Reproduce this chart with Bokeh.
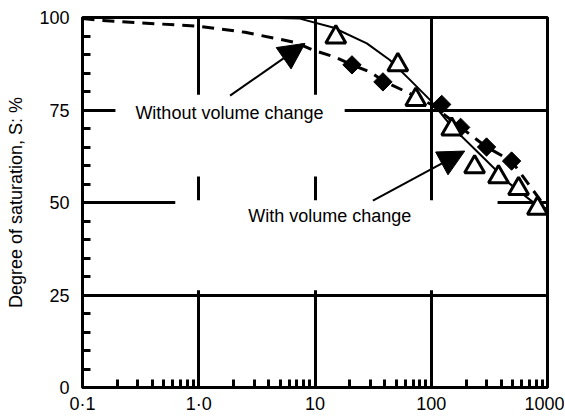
import numpy as np
from bokeh.plotting import figure
from bokeh.models import (FixedTicker, BoxAnnotation, Arrow, NormalHead, Label, Range1d)
from bokeh.embed import file_html
from bokeh.resources import INLINE

# ---- data ----
suction_triangles = [15.1, 51.6, 73.6, 150, 236, 379, 564, 820]
saturation_triangles = [94.7, 87.2, 77.8, 69.8, 59.6, 56.9, 53.7, 48.4]

suction_diamonds = [20.8, 38.4, 123, 179, 299, 491]
saturation_diamonds = [87.2, 82.6, 76.5, 70.3, 65.0, 61.2]

solid_curve_x = [0.1, 1, 2.77, 7.4, 14.3, 27.9, 44, 65.3, 97, 150, 261, 472, 1000]
solid_curve_y = [100, 100, 100, 99.7, 97.3, 93.0, 88.5, 83.2, 77.8, 70.5, 63.1, 55.1, 47.0]

dashed_curve_x = [0.1, 0.143, 1.03, 2.5, 6.7, 9.6, 14.9, 20.8, 29.7, 39.9, 65, 100, 179, 299, 491, 1000]
dashed_curve_y = [99.7, 99.2, 97.6, 96.0, 93.3, 91.2, 89.3, 87.2, 85.3, 82.6, 79.5, 76.5, 70.3, 65.0, 61.2, 48.0]

x_tick_values = [0.1, 1, 10, 100, 1000]
x_tick_labels = ["0·1", "1·0", "10", "100", "1000"]
x_minor_values = [m * 10.0 ** e for e in range(-1, 3) for m in range(2, 10)]
y_tick_values = [0, 25, 50, 75, 100]
y_minor_values = [v for v in range(5, 100, 5) if v % 25 != 0]
x_grid_values = [1, 10, 100]
y_grid_values = [25, 50, 75]

# annotation texts / positions
label_without = ("Without volume change", 0.285, 74.3)
label_with = ("With volume change", 2.66, 46.3)
arrow_without = (1.86, 78.9, 8.2, 93.0)
arrow_with = (31.5, 50.5, 194, 63.9)
mask_one = (0.192, 18.0, 57.0, 79.1)
mask_two = (0.628, 372, 26.3, 50.6)

FONT = "Liberation Sans"

p = figure(width=564, height=416, x_axis_type="log",
           x_range=Range1d(0.1, 1000), y_range=Range1d(0, 100),
           output_backend="svg", toolbar_location=None,
           min_border_left=82, min_border_right=17, min_border_top=17, min_border_bottom=25)
p.background_fill_color = "white"
p.border_fill_color = "white"
p.outline_line_color = "black"
p.outline_line_width = 3

# axes
p.xaxis.ticker = FixedTicker(ticks=x_tick_values, minor_ticks=x_minor_values)
p.xaxis.major_label_overrides = dict(zip(x_tick_values, x_tick_labels))
p.yaxis.ticker = FixedTicker(ticks=y_tick_values, minor_ticks=y_minor_values)
for ax in (p.xaxis[0], p.yaxis[0]):
    ax.axis_line_width = 3
    ax.axis_line_color = "black"
    ax.major_tick_in = 0
    ax.major_tick_out = 0
    ax.minor_tick_in = 8
    ax.minor_tick_out = 0
    ax.minor_tick_line_width = 3
    ax.minor_tick_line_color = "black"
    ax.major_label_text_font = FONT
    ax.major_label_text_font_size = "18px"
    ax.major_label_text_color = "black"
p.xaxis.major_label_standoff = 6
p.yaxis.major_label_standoff = 13
p.yaxis.axis_label = "Degree of saturation, S: %"
p.yaxis.axis_label_text_font = FONT
p.yaxis.axis_label_text_font_size = "18px"
p.yaxis.axis_label_text_font_style = "normal"
p.yaxis.axis_label_text_color = "black"
p.yaxis.axis_label_standoff = 10

# grid
p.xgrid.ticker = FixedTicker(ticks=x_grid_values)
p.ygrid.ticker = FixedTicker(ticks=y_grid_values)
for g in (p.xgrid[0], p.ygrid[0]):
    g.grid_line_color = "black"
    g.grid_line_width = 3

# white masks that interrupt the grid behind the labels
for (l, r, b, t) in (mask_one, mask_two):
    p.add_layout(BoxAnnotation(left=l, right=r, bottom=b, top=t,
                               fill_color="white", fill_alpha=1.0,
                               line_color=None, level="underlay"))

# curves
p.line(solid_curve_x, solid_curve_y, line_color="black", line_width=2)
p.line(dashed_curve_x, dashed_curve_y, line_color="black", line_width=3, line_dash="12 8")

# markers
p.scatter(suction_diamonds, saturation_diamonds, marker="square", angle=np.pi / 4,
          size=13, fill_color="black", line_color="black")
p.scatter(suction_triangles, saturation_triangles, marker="triangle", size=20,
          fill_color="white", line_color="black", line_width=3)

# arrows
for (xs, ys, xe, ye) in (arrow_without, arrow_with):
    p.add_layout(Arrow(end=NormalHead(size=26, fill_color="black", line_color="black"),
                       x_start=xs, y_start=ys, x_end=xe, y_end=ye,
                       line_color="black", line_width=2))

# labels
for (txt, lx, ly) in (label_without, label_with):
    p.add_layout(Label(x=lx, y=ly, text=txt, text_font=FONT, text_font_size="18px",
                       text_color="black", text_baseline="middle", text_align="left"))

open("out.html", "w").write(file_html(p, INLINE))
